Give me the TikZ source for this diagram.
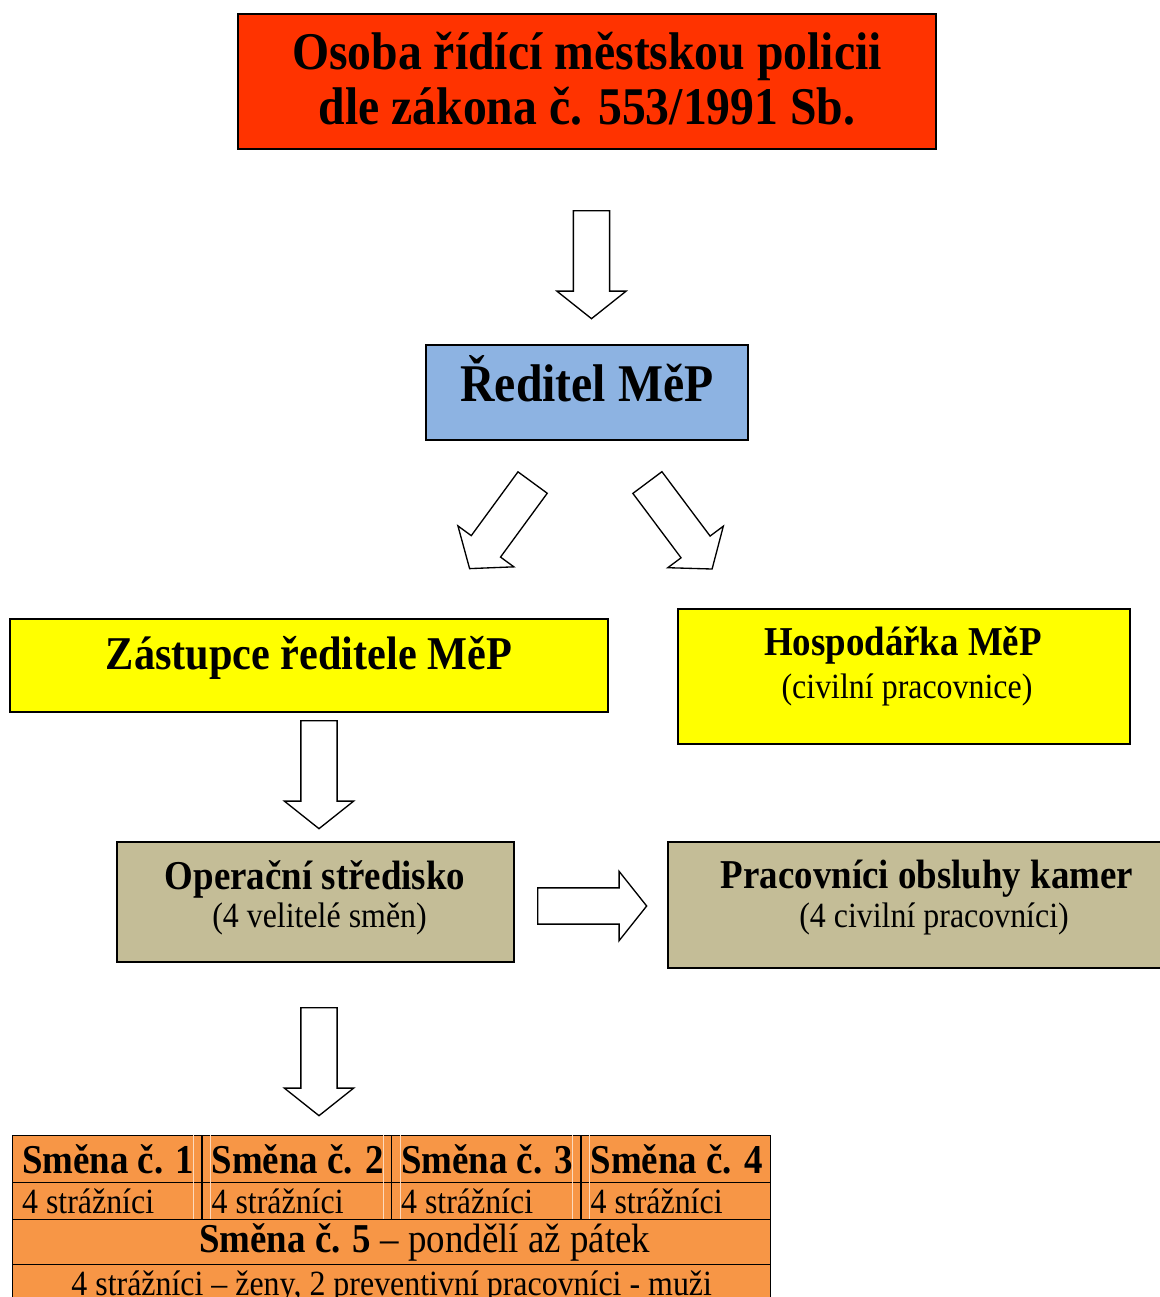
\documentclass[tikz,border=0pt]{standalone}
\usepackage{fontspec}
\setmainfont{Liberation Serif}[FakeStretch=0.9]
\usepackage{xcolor}
\usepackage{tikz}
\usetikzlibrary{shapes.arrows}

\definecolor{cervena}{HTML}{FF3300}
\definecolor{modra}{HTML}{8DB3E2}
\definecolor{zluta}{HTML}{FFFF00}
\definecolor{bezova}{HTML}{C4BD97}
\definecolor{oranzova}{HTML}{F79646}

\newcommand{\velke}{\fontsize{39.75}{41.25}\selectfont\bfseries}
\newcommand{\stredni}{\fontsize{35.25}{38}\selectfont\bfseries}
\newcommand{\nadpisf}{\fontsize{30.75}{33}\selectfont\bfseries}
\newcommand{\popisf}{\fontsize{26.6}{29}\selectfont}

\begin{document}
\begin{tikzpicture}[x=0.75pt, y=-0.75pt, every node/.style={inner sep=0pt},
  box/.style={rectangle, draw=black, line width=1pt},
  sipka/.style={single arrow, draw=black, fill=white, line width=1pt, inner sep=13.1pt, single arrow head extend=12.4pt, single arrow tip angle=103, minimum height=#1, anchor=tail},
  bunka/.style={rectangle, draw=black, line width=1pt, fill=oranzova, anchor=north west, minimum height=#1}]
\useasboundingbox (0,0) rectangle (1160,1297);

% hlavni bloky
\node[box, fill=cervena, minimum width=523.5pt, minimum height=101.25pt] (osoba) at (587,81.5) {};
\node[font=\velke, align=center] (osoba-t) at (587,79) {Osoba řídící městskou policii\\dle zákona č. 553/1991 Sb.};
\node[box, fill=modra, minimum width=241.5pt, minimum height=71.25pt] (reditel) at (587,392.5) {};
\node[font=\velke] (reditel-t) at (587,379) {Ředitel MěP};
\node[box, fill=zluta, minimum width=448.5pt, minimum height=69.75pt] (zastupce) at (309,665.5) {};
\node[font=\stredni] (zastupce-t) at (309,658) {Zástupce ředitele MěP};
\node[box, fill=zluta, minimum width=339pt, minimum height=101.25pt] (hosp) at (904,676.5) {};
\node[font=\nadpisf] (hosp-t) at (903,645) {Hospodářka MěP};
\node[font=\popisf] (hosp-p) at (907,690) {(civilní pracovnice)};
\node[box, fill=bezova, minimum width=297.75pt, minimum height=90pt] (operacni) at (315.5,902) {};
\node[font=\nadpisf] (operacni-t) at (315,879) {Operační středisko};
\node[font=\popisf] (operacni-p) at (319.5,919) {(4 velitelé směn)};
\node[box, fill=bezova, minimum width=388.5pt, minimum height=94.5pt] (kamery) at (927,905) {};
\node[font=\nadpisf] (kamery-t) at (927,879) {Pracovníci obsluhy kamer};
\node[font=\popisf] (kamery-p) at (934,919) {(4 civilní pracovníci)};

% sipky
\node[sipka=81pt, rotate=-90] (s1) at (591.5,210) {};
\node[sipka=80pt, rotate=233.8] (s2) at (533,482) {};
\node[sipka=81pt, rotate=-53.2] (s3) at (647,482) {};
\node[sipka=81pt, rotate=-90] (s4) at (319,720) {};
\node[sipka=81.75pt] (s5) at (537,906) {};
\node[sipka=81pt, rotate=-90] (s6) at (319,1007) {};

% tabulka smen
\foreach \i in {1,...,4} {
  \node[bunka=35.25pt, minimum width=142.1pt, inner xsep=7pt, font=\nadpisf] (smena\i) at ({12+189.5*(\i-1)},1135) {\makebox[128pt][l]{Směna č. \i}};
  \node[bunka=27.75pt, minimum width=142.1pt, inner xsep=7pt, font=\popisf] (straz\i) at ({12+189.5*(\i-1)},1182) {\makebox[128pt][l]{4 strážníci}};
}
\foreach \i in {2,3,4} {
  \draw[oranzova!35!white, line width=0.5pt] (smena\i.north west) ++(-8,0) -- ++(0,84);
  \draw[oranzova!35!white, line width=0.5pt] (smena\i.north west) ++(9,0) -- ++(0,84);
}
\node[bunka=33.75pt, minimum width=568.5pt, font=\fontsize{30.75}{33}\selectfont] (smena5) at (12,1219) {\hspace*{49.5pt}\textbf{Směna č. 5} – pondělí až pátek};
\node[bunka=33.75pt, minimum width=568.5pt, font=\popisf] (straz5) at (12,1264) {4 strážníci – ženy, 2 preventivní pracovníci - muži};
\end{tikzpicture}
\end{document}
